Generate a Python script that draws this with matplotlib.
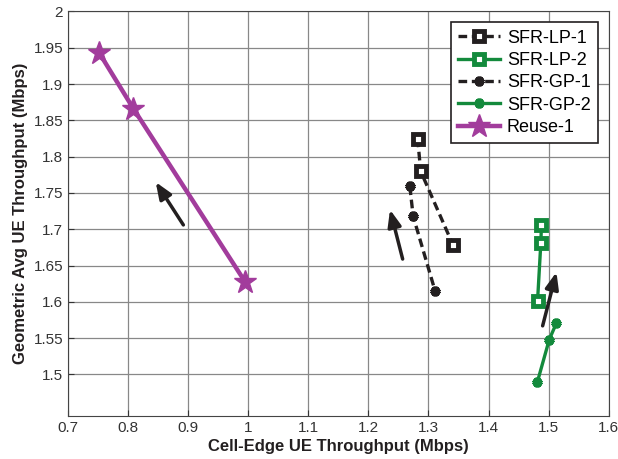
import matplotlib
matplotlib.use("Agg")
import matplotlib.pyplot as plt

plt.rcParams["font.family"] = ["Liberation Sans", "DejaVu Sans"]

# cell-edge throughput (x) vs geometric average throughput (y)
lp1_x = [1.282, 1.287, 1.341]
lp1_y = [1.825, 1.780, 1.678]
lp2_x = [1.488, 1.487, 1.4815]
lp2_y = [1.7055, 1.681, 1.601]
gp1_x = [1.269, 1.2745, 1.311]
gp1_y = [1.759, 1.718, 1.615]
gp2_x = [1.513, 1.501, 1.481]
gp2_y = [1.571, 1.548, 1.489]
reuse_x = [0.752, 0.809, 0.9945]
reuse_y = [1.943, 1.866, 1.628]

# arrows: (tail x, tail y, head x, head y)
arrows = [
    (0.892, 1.706, 0.846, 1.765),
    (1.257, 1.659, 1.236, 1.727),
    (1.490, 1.567, 1.513, 1.641),
]

BLACK = "#231f20"
GREEN = "#138a3c"
PURPLE = "#a23c9c"

fig = plt.figure(figsize=(6.18, 4.59), dpi=100)
ax = fig.add_axes([0.110, 0.094, 0.875, 0.881])

ax.plot(lp1_x, lp1_y, "--", color=BLACK, lw=2.4, dashes=(2.6, 1.4),
        marker="s", ms=7.5, mfc="white", mec=BLACK, mew=3.5, label="SFR-LP-1")
ax.plot(lp2_x, lp2_y, "-", color=GREEN, lw=2.4,
        marker="s", ms=7.5, mfc="white", mec=GREEN, mew=3.5, label="SFR-LP-2")
ax.plot(gp1_x, gp1_y, "--", color=BLACK, lw=2.4, dashes=(2.6, 1.4),
        marker=(6, 2, 0), ms=7, mec=BLACK, mew=3, label="SFR-GP-1")
ax.plot(gp2_x, gp2_y, "-", color=GREEN, lw=2.4,
        marker=(6, 2, 0), ms=7, mec=GREEN, mew=3, label="SFR-GP-2")
ax.plot(reuse_x, reuse_y, "-", color=PURPLE, lw=3.2,
        marker="*", ms=17, mfc=PURPLE, mec=PURPLE, label="Reuse-1")

for x0, y0, x1, y1 in arrows:
    ax.annotate("", xy=(x1, y1), xytext=(x0, y0),
                arrowprops=dict(arrowstyle="-|>,head_width=0.4,head_length=1.0",
                                color=BLACK, lw=2.5, shrinkA=0, shrinkB=0))

ax.set_xlim(0.7, 1.6)
ax.set_ylim(1.443, 2.0)
ax.set_xticks([0.7, 0.8, 0.9, 1.0, 1.1, 1.2, 1.3, 1.4, 1.5, 1.6])
ax.set_xticklabels(["0.7", "0.8", "0.9", "1", "1.1", "1.2", "1.3", "1.4", "1.5", "1.6"])
ax.set_yticks([1.5, 1.55, 1.6, 1.65, 1.7, 1.75, 1.8, 1.85, 1.9, 1.95, 2.0])
ax.set_yticklabels(["1.5", "1.55", "1.6", "1.65", "1.7", "1.75", "1.8", "1.85",
                    "1.9", "1.95", "2"])
ax.tick_params(direction="in", labelsize=11, length=4, colors="#333333")
ax.grid(True, color="#888888", lw=0.9)
ax.set_axisbelow(True)
for s in ax.spines.values():
    s.set_color("#444444")

ax.set_xlabel("Cell-Edge UE Throughput (Mbps)", fontsize=12, fontweight="bold",
              color="#231f20", labelpad=3)
ax.set_ylabel("Geometric Avg UE Throughput (Mbps)", fontsize=12, fontweight="bold",
              color="#231f20", labelpad=4)

leg = ax.legend(loc="upper right", fontsize=13, handlelength=2.3, fancybox=False,
                framealpha=1, edgecolor="#231f20", borderpad=0.4, labelspacing=0.3,
                handletextpad=0.4, borderaxespad=0.6)
leg.get_frame().set_linewidth(1.2)

fig.savefig("out.png", dpi=100)
